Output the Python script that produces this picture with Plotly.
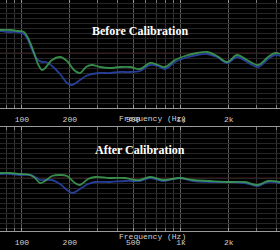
import plotly.graph_objects as go

# ---- data (Hz, dB) ----
before_green_f = [72.8, 84.1, 94.5, 103.0, 109.2, 117.4, 126.2, 133.8, 141.7, 154.5, 173.6, 192.1, 212.5, 231.8, 252.8, 275.8, 309.7, 357.9, 413.7, 478.2, 552.6, 638.7, 717.4, 793.8, 917.6, 1060, 1262, 1458, 1686, 1949, 2252, 2603, 3053, 3529, 3906, 4198]
before_green_db = [9.2, 9.2, 8.8, 8.4, 6.0, 1.2, -4.4, -6.8, -5.6, -2.8, -1.6, -3.2, -6.8, -8.0, -5.6, -4.8, -5.6, -6.0, -5.6, -5.6, -6.4, -4.0, -4.8, -5.6, -2.8, -1.2, 0.0, 0.4, -1.2, -3.6, -0.8, -2.8, -4.8, -1.6, 0.0, -0.4]
before_blue_f = [72.8, 84.1, 94.5, 103.0, 109.2, 117.4, 126.2, 133.8, 141.7, 154.5, 173.6, 192.1, 206.5, 231.8, 252.8, 275.8, 309.7, 357.9, 413.7, 478.2, 552.6, 638.7, 717.4, 793.8, 917.6, 1060, 1262, 1458, 1686, 1949, 2252, 2603, 3053, 3529, 3906, 4198]
before_blue_db = [8.8, 8.4, 8.4, 7.6, 5.2, 0.4, -2.8, -3.6, -3.6, -5.2, -8.4, -12.0, -12.8, -10.8, -9.2, -8.4, -8.0, -8.0, -7.6, -7.6, -7.2, -4.8, -5.2, -6.4, -3.6, -2.0, -0.8, -0.4, -1.6, -4.0, -1.6, -3.6, -5.6, -2.4, -0.8, -1.2]

after_green_f = [72.8, 84.1, 97.2, 112.4, 120.8, 129.9, 139.6, 154.5, 173.6, 192.1, 215.7, 231.8, 260.5, 287.6, 357.9, 444.8, 514.1, 552.6, 638.7, 771.6, 986.3, 1191, 1522, 2033, 2529, 3046, 3520, 4198]
after_green_db = [2.0, 2.0, 1.6, 1.2, 0.0, -2.0, -1.2, 0.8, 1.2, 0.8, -2.0, -2.8, -0.4, 0.4, 0.0, 0.0, -0.8, -0.8, 0.4, -0.8, 0.0, -0.8, -1.2, -1.6, -1.6, -2.8, -1.2, -1.6]
after_blue_f = [72.8, 84.1, 97.2, 112.4, 120.8, 129.9, 139.6, 154.5, 173.6, 192.1, 206.5, 231.8, 260.5, 287.6, 357.9, 444.8, 514.1, 552.6, 638.7, 771.6, 986.3, 1191, 1522, 2033, 2529, 3046, 3520, 4198]
after_blue_db = [1.6, 1.6, 1.2, 1.2, 0.4, -0.8, -0.8, -0.8, -2.4, -4.8, -6.0, -4.4, -2.4, -1.6, -1.6, -1.2, -1.2, -1.2, 0.0, -1.2, 0.0, -1.2, -1.6, -1.6, -2.0, -3.2, -1.6, -2.0]

major_ticks = [100, 200, 500, 1000, 2000]
major_labels = ["100", "200", "500", "1k", "2k"]
minor_ticks = [80, 90, 300, 400, 600, 700, 800, 900, 3000, 4000]
titles = ["Before Calibration", "After Calibration"]
x_title = "Frequency (Hz)"

GREEN = "#3fa356"
BLUE = "#2b44a6"

fig = go.Figure()
fig.add_trace(go.Scatter(x=before_blue_f, y=before_blue_db, mode="lines", line=dict(color=BLUE, width=1.8, shape="spline"), opacity=0.9, xaxis="x", yaxis="y"))
fig.add_trace(go.Scatter(x=before_green_f, y=before_green_db, mode="lines", line=dict(color=GREEN, width=1.8, shape="spline"), opacity=0.85, xaxis="x", yaxis="y"))
fig.add_trace(go.Scatter(x=after_blue_f, y=after_blue_db, mode="lines", line=dict(color=BLUE, width=1.8, shape="spline"), opacity=0.9, xaxis="x2", yaxis="y2"))
fig.add_trace(go.Scatter(x=after_green_f, y=after_green_db, mode="lines", line=dict(color=GREEN, width=1.8, shape="spline"), opacity=0.85, xaxis="x2", yaxis="y2"))

xcommon = dict(
    type="log", range=[1.862, 3.623],
    tickmode="array", tickvals=major_ticks, ticktext=major_labels,
    showgrid=True, gridcolor="#5a5a5a", gridwidth=1,
    showline=True, linecolor="#9a9a9a", linewidth=1, mirror="allticks",
    ticks="inside", ticklen=3, tickcolor="#9a9a9a",
    tickfont=dict(family="Liberation Mono", size=8, color="#d0d0d0"),
    ticklabelstandoff=3,
    minor=dict(tickmode="array", tickvals=minor_ticks, showgrid=True, gridcolor="#333333",
               ticks="inside", ticklen=3, tickcolor="#7a7a7a"),
    zeroline=False,
)
ycommon = dict(dtick=2, showgrid=True, gridcolor="#262626", gridwidth=1,
               showticklabels=False, zeroline=False, showline=False, ticks="")

fig.update_layout(
    width=280, height=250,
    margin=dict(l=0, r=0, t=0, b=0),
    paper_bgcolor="black", plot_bgcolor="black",
    showlegend=False,
    xaxis=dict(xcommon, anchor="y"),
    yaxis=dict(ycommon, domain=[0.568, 1.0], range=[-22, 21.2], anchor="x"),
    xaxis2=dict(xcommon, anchor="y2"),
    yaxis2=dict(ycommon, domain=[0.076, 0.492], range=[-21.2, 20.4], anchor="x2"),
)

for yref in ["y", "y2"]:
    fig.add_shape(type="line", xref="x domain" if yref == "y" else "x2 domain", yref=yref,
                  x0=0, x1=1, y0=0, y1=0, line=dict(color="#4a1616", width=1), layer="below")

fig.add_annotation(text="<b>" + titles[0] + "</b>", x=0.5, y=1 - 22 / 250, xref="paper", yref="paper",
                   showarrow=False, font=dict(family="Liberation Serif", size=12, color="white"))
fig.add_annotation(text="<b>" + titles[1] + "</b>", x=0.5, y=1 - 150 / 250, xref="paper", yref="paper",
                   showarrow=False, font=dict(family="Liberation Serif", size=12, color="white"))
for ypix in [118, 243]:
    fig.add_annotation(text=x_title, x=152 / 280, y=1 - ypix / 250, xref="paper", yref="paper",
                       showarrow=False, font=dict(family="Liberation Mono", size=8, color="#d0d0d0"))

fig.write_html("out.html")
